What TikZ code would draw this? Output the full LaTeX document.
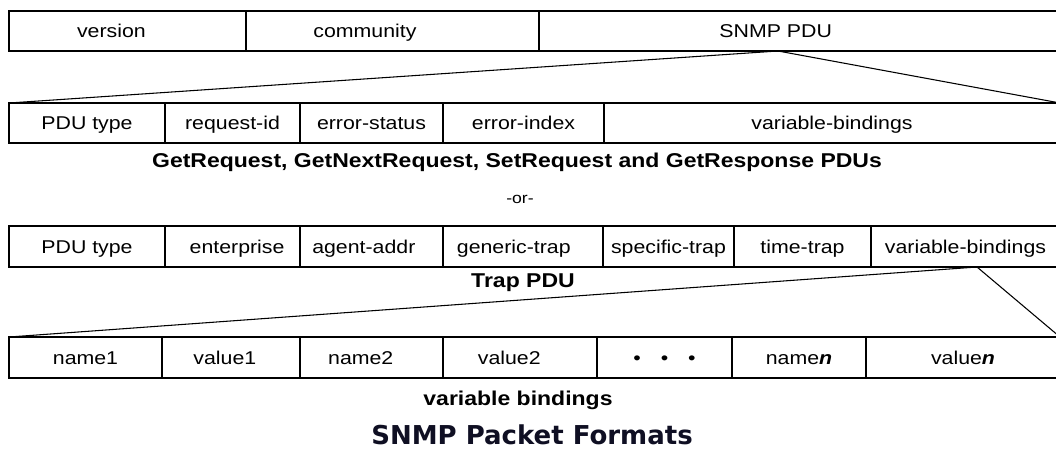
\documentclass[tikz,border=0pt]{standalone}
\usepackage{fontspec}
\setmainfont{Liberation Sans}
\newfontfamily\dvfont{DejaVu Sans}
\definecolor{titlecol}{RGB}{15,15,35}
\newcommand\hsc[1]{\scalebox{1.15}[1]{#1}}
\newcommand\cellat[6]{\node[cell, minimum width={(#3-#2)*0.75pt}, minimum height={(#5-#4)*0.75pt}] (#1) at ({(#2+#3)/2},{(#4+#5)/2}) {\hsc{#6}};}
\begin{document}
\begin{tikzpicture}[x=0.75pt,y=-0.75pt,
  cell/.style={draw=black, line width=1.25pt, rectangle, inner sep=0pt, outer sep=0pt,
               text height=11.5pt, text depth=1.5pt,
               font=\fontsize{13.9}{16}\selectfont},
  captext/.style={inner sep=0pt, font=\bfseries\fontsize{15}{18}\selectfont},
  fan/.style={draw=black, line width=0.8pt}]
\useasboundingbox (0,0) rectangle (1056,450);
% row 1
\cellat{version}{9}{246}{11}{51}{version\hspace*{21pt}}
\cellat{community}{246}{539}{11}{51}{community\hspace*{36pt}}
\cellat{snmppdu}{539}{1060}{11}{51}{SNMP PDU\hspace*{31pt}}
% row 2
\cellat{pdutypeA}{9}{165}{103}{143}{PDU type}
\cellat{reqid}{165}{300}{103}{143}{request-id}
\cellat{errstat}{300}{443}{103}{143}{error-status}
\cellat{erridx}{443}{604}{103}{143}{error-index}
\cellat{varbindA}{604}{1060}{103}{143}{variable-bindings}
\node[captext] (capA) at (517,162) {\hsc{GetRequest, GetNextRequest, SetRequest and GetResponse PDUs}};
\node[inner sep=0pt, font=\fontsize{11.5}{13}\selectfont] (or) at (520,199) {\hsc{-or-}};
% row 3
\cellat{pdutypeB}{9}{165}{226}{267}{PDU type}
\cellat{enterprise}{165}{300}{226}{267}{\hspace*{6pt}enterprise}
\cellat{agentaddr}{300}{443}{226}{267}{agent-addr\hspace*{10pt}}
\cellat{generic}{443}{603}{226}{267}{generic-trap\hspace*{12pt}}
\cellat{specific}{603}{734}{226}{267}{specific-trap}
\cellat{timetrap}{734}{871}{226}{267}{time-trap}
\cellat{varbindB}{871}{1060}{226}{267}{variable-bindings}
\node[captext] (capB) at (523,283) {\hsc{Trap PDU}};
% row 4
\cellat{name1}{9}{162}{337}{378}{name1}
\cellat{value1}{162}{300}{337}{378}{value1\hspace*{8pt}}
\cellat{name2}{300}{443}{337}{378}{name2\hspace*{14pt}}
\cellat{value2}{443}{597}{337}{378}{value2\hspace*{14pt}}
\cellat{dots}{597}{732}{337}{378}{•\hspace{13pt}•\hspace{13pt}•}
\cellat{namen}{732}{866}{337}{378}{name\textbf{\textit{n}}}
\cellat{valuen}{866}{1060}{337}{378}{value\textbf{\textit{n}}}
\node[captext] (capC) at (518,400) {\hsc{variable bindings}};
\node[inner sep=0pt, text=titlecol, font=\dvfont\bfseries\fontsize{19.5}{22}\selectfont] (title) at (532,435) {SNMP Packet Formats};
% fan lines
\coordinate (apexA) at (778,51);
\coordinate (apexB) at (977,267);
\draw[fan] (pdutypeA.north west) -- (apexA) -- (varbindA.north east);
\draw[fan] (name1.north west) -- (apexB) -- (valuen.north east);
\end{tikzpicture}
\end{document}
